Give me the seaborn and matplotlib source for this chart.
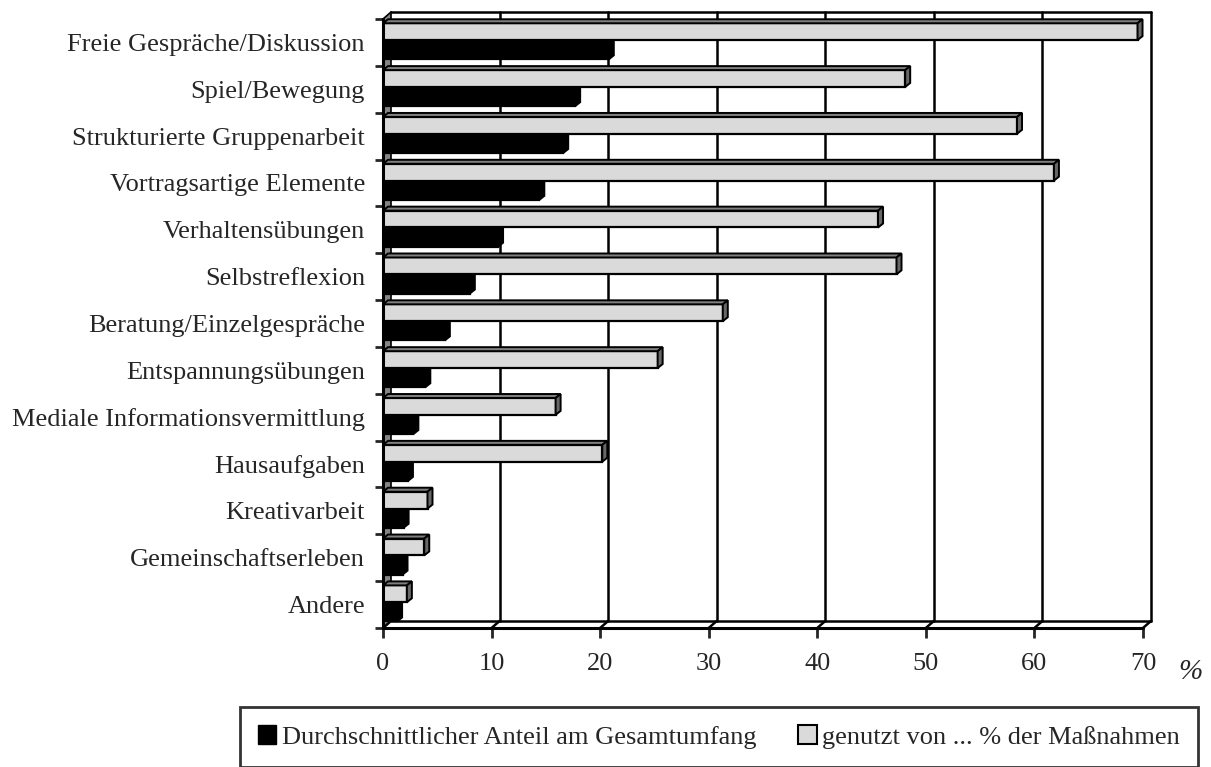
import numpy as np
import pandas as pd
import matplotlib
matplotlib.use('Agg')
import matplotlib.pyplot as plt
import seaborn as sns
from matplotlib.patches import Polygon, Patch

# data
categories = ['Freie Gespräche/Diskussion', 'Spiel/Bewegung', 'Strukturierte Gruppenarbeit',
              'Vortragsartige Elemente', 'Verhaltensübungen', 'Selbstreflexion',
              'Beratung/Einzelgespräche', 'Entspannungsübungen', 'Mediale Informationsvermittlung',
              'Hausaufgaben', 'Kreativarbeit', 'Gemeinschaftserleben', 'Andere']
anteil = [20.8, 17.7, 16.6, 14.4, 10.6, 8.0, 5.7, 3.9, 2.8, 2.3, 1.9, 1.8, 1.3]
genutzt = [69.5, 48.1, 58.4, 61.8, 45.6, 47.3, 31.3, 25.3, 15.9, 20.2, 4.1, 3.8, 2.2]
x_ticks = [0, 10, 20, 30, 40, 50, 60, 70]
s_anteil = 'Durchschnittlicher Anteil am Gesamtumfang'
s_genutzt = 'genutzt von ... % der Maßnahmen'

df = pd.DataFrame({
    'Kategorie': categories + categories,
    'Wert': genutzt + anteil,
    'Reihe': [s_genutzt] * len(categories) + [s_anteil] * len(categories),
})

sns.set_style('white')
plt.rcParams['font.family'] = ['Liberation Serif', 'DejaVu Serif']
FS = 19
GRAY = '#dadada'

W, H = 1211, 767
fig = plt.figure(figsize=(W / 100, H / 100), dpi=100)
ax = fig.add_axes([383 / W, 1 - 628 / H, (1151 - 383) / W, (628 - 12) / H])

n = len(categories)
DX = 0.74   # wall depth in x units
DY = 0.15   # wall depth in category units
ddx, ddy = 0.46, 0.085  # bar depth

sns.barplot(data=df, y='Kategorie', x='Wert', hue='Reihe', hue_order=[s_genutzt, s_anteil],
            palette={s_genutzt: GRAY, s_anteil: 'black'}, width=0.72, orient='h',
            saturation=1, errorbar=None, edgecolor='black', linewidth=1.6,
            legend=False, ax=ax)

top = -0.5
bot = n - 0.5
ax.set_xlim(0, 70 + DX)
ax.set_ylim(bot, top - DY)
for s in ax.spines.values():
    s.set_visible(False)

# left wall
ax.add_patch(Polygon([(0, top), (DX, top - DY), (DX, bot - DY), (0, bot)],
                     closed=True, facecolor='#858585', edgecolor='none', zorder=0.5, clip_on=False))
ax.plot([DX, DX], [top - DY, bot - DY], color='black', lw=1.2, zorder=0.6, clip_on=False)

# back wall grid
for v in x_ticks[1:]:
    ax.plot([v + DX, v + DX], [bot - DY, top - DY], color='black', lw=1.8, zorder=0.7, clip_on=False)
ax.plot([DX, 70 + DX], [top - DY, top - DY], color='black', lw=1.8, zorder=0.7, clip_on=False)

# floor
ax.plot([0, 70], [bot, bot], color='black', lw=2.2, zorder=6, clip_on=False)
ax.plot([DX, 70 + DX], [bot - DY, bot - DY], color='black', lw=1.8, zorder=6, clip_on=False)
for v in x_ticks:
    ax.plot([v, v + DX], [bot, bot - DY], color='black', lw=1.8, zorder=6, clip_on=False)
ax.plot([0, 0], [top, bot], color='black', lw=2.2, zorder=6, clip_on=False)
ax.plot([0, DX], [top, top - DY], color='black', lw=1.2, zorder=6, clip_on=False)

# 3d faces on the bars
for p in list(ax.patches):
    if isinstance(p, Polygon):
        continue
    is_gray = p.get_facecolor()[0] > 0.5
    if is_gray:
        p.set_y(p.get_y() - 0.05)
        p.set_zorder(4)
        c_top, c_side, z = '#7f7f7f', '#676767', 4
    else:
        p.set_zorder(3)
        c_top, c_side, z = 'black', 'black', 3
    x0, y, w, h = p.get_x(), p.get_y(), p.get_width(), p.get_height()
    x1 = x0 + w
    ax.add_patch(Polygon([(x0, y), (x1, y), (x1 + ddx, y - ddy), (x0 + ddx, y - ddy)],
                         closed=True, facecolor=c_top, edgecolor='black', lw=1.4, zorder=z))
    ax.add_patch(Polygon([(x1, y), (x1, y + h), (x1 + ddx, y + h - ddy), (x1 + ddx, y - ddy)],
                         closed=True, facecolor=c_side, edgecolor='black', lw=1.4, zorder=z))

ax.set_yticks(range(n))
ax.set_yticklabels(categories, fontsize=FS)
ax.set_yticks(np.arange(top, bot + 0.5, 1), minor=True)
ax.tick_params(axis='y', which='major', length=0, pad=13)
ax.tick_params(axis='y', which='minor', left=True, length=6, width=2, direction='out')
ax.set_xticks(x_ticks)
ax.set_xticklabels([str(v) for v in x_ticks], fontsize=FS)
ax.tick_params(axis='x', bottom=True, length=7, width=2, direction='out', pad=11)
ax.set_xlabel('')
ax.set_ylabel('')

fig.text(1190 / W, 1 - 672 / H, '%', fontsize=21, style='italic', ha='center', va='center')

handles = [Patch(facecolor='black', edgecolor='black'),
           Patch(facecolor=GRAY, edgecolor='black', lw=1.5)]
leg = fig.legend(handles=handles, labels=[s_anteil, s_genutzt], loc='center',
                 bbox_to_anchor=(719 / W, 1 - 737 / H), ncol=2, frameon=True, fancybox=False,
                 edgecolor='black', handlelength=0.7, handleheight=0.7, handletextpad=0.2,
                 columnspacing=1.6, borderpad=0.7, fontsize=FS)
leg.get_frame().set_linewidth(2)

fig.savefig('out.png', dpi=100)
